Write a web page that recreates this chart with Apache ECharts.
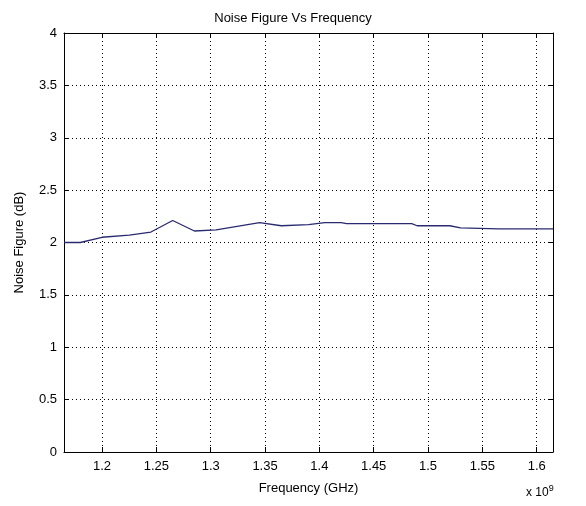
<!DOCTYPE html>
<html>
<head>
<meta charset="utf-8">
<script src="https://cdn.jsdelivr.net/npm/echarts@6/dist/echarts.min.js"></script>
<style>html,body{margin:0;padding:0;background:#fff}#c{width:586px;height:506px}</style>
</head>
<body>
<div id="c"></div>
<script>
// Frequency in units of 1e9 Hz
const freq = [1.165, 1.18, 1.2, 1.225, 1.245, 1.265, 1.285, 1.305, 1.345, 1.365, 1.39, 1.405, 1.42, 1.425, 1.485, 1.49, 1.52, 1.53, 1.565, 1.615];
const noiseFigure = [2.00, 2.00, 2.05, 2.07, 2.10, 2.21, 2.11, 2.12, 2.19, 2.16, 2.17, 2.19, 2.19, 2.18, 2.18, 2.16, 2.16, 2.14, 2.13, 2.13];
const xTicks = [1.2, 1.25, 1.3, 1.35, 1.4, 1.45, 1.5, 1.55, 1.6];
const yTicks = [0, 0.5, 1, 1.5, 2, 2.5, 3, 3.5, 4];

const font = 'Liberation Sans, Arial, sans-serif';
const data = freq.map((f, i) => [f, noiseFigure[i]]);
const chart = echarts.init(document.getElementById('c'));
const gridStyle = { show: true, lineStyle: { color: '#000', width: 1, type: [1, 3] } };
chart.setOption({
  animation: false,
  backgroundColor: '#fff',
  title: {
    text: 'Noise Figure Vs Frequency', left: 'center', top: 7,
    textStyle: { fontFamily: font, fontSize: 13, fontWeight: 'normal', color: '#000' }
  },
  grid: { left: 64, top: 33, width: 489, height: 419, containLabel: false },
  xAxis: [{
    type: 'value', min: 1.165, max: 1.615, position: 'bottom',
    name: 'Frequency (GHz)', nameLocation: 'middle', nameGap: 30,
    nameTextStyle: { fontFamily: font, fontSize: 13, color: '#000' },
    axisLine: { show: true, onZero: false, lineStyle: { color: '#000', width: 1 } },
    axisTick: { show: true, inside: true, length: 5, customValues: xTicks, lineStyle: { color: '#000' } },
    axisLabel: { customValues: xTicks, fontFamily: font, fontSize: 13, color: '#000', margin: 8, formatter: v => String(+v.toFixed(2)) },
    splitLine: gridStyle
  }, {
    type: 'value', min: 1.165, max: 1.615, position: 'top',
    axisLine: { show: true, onZero: false, lineStyle: { color: '#000', width: 1 } },
    axisTick: { show: true, inside: true, length: 5, customValues: xTicks, lineStyle: { color: '#000' } },
    axisLabel: { show: false }, splitLine: { show: false }
  }],
  yAxis: [{
    type: 'value', min: 0, max: 4, interval: 0.5, position: 'left',
    name: 'Noise Figure (dB)', nameLocation: 'middle', nameGap: 38, nameRotate: 90,
    nameTextStyle: { fontFamily: font, fontSize: 13, color: '#000' },
    axisLine: { show: true, onZero: false, lineStyle: { color: '#000', width: 1 } },
    axisTick: { show: true, inside: true, length: 5, lineStyle: { color: '#000' } },
    axisLabel: { fontFamily: font, fontSize: 13, color: '#000', margin: 7 },
    splitLine: gridStyle
  }, {
    type: 'value', min: 0, max: 4, interval: 0.5, position: 'right',
    axisLine: { show: true, onZero: false, lineStyle: { color: '#000', width: 1 } },
    axisTick: { show: true, inside: true, length: 5, lineStyle: { color: '#000' } },
    axisLabel: { show: false }, splitLine: { show: false }
  }],
  graphic: [{
    type: 'text', left: 526, top: 484,
    style: {
      text: 'x 10{sup|9}', fontFamily: font, fontSize: 12, fill: '#000',
      rich: { sup: { fontSize: 9, verticalAlign: 'top', padding: [0, 0, 8, 0] } }
    }
  }],
  series: [{
    type: 'line', xAxisIndex: 0, yAxisIndex: 0, data: data,
    showSymbol: false, symbol: 'none',
    lineStyle: { color: '#2a2a70', width: 1.3 },
    silent: true
  }]
});
</script>
</body>
</html>
